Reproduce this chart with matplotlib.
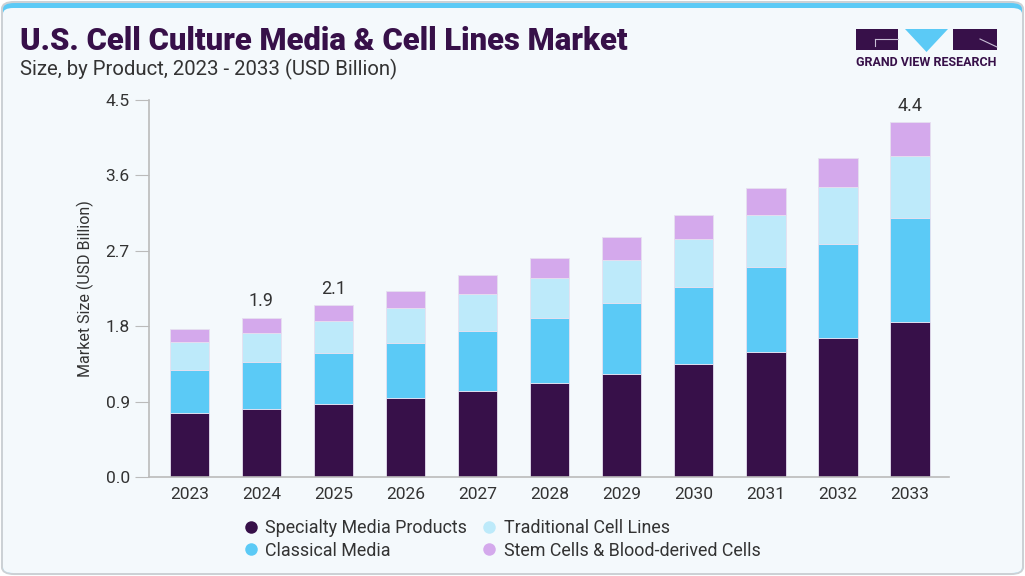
import matplotlib
matplotlib.use("Agg")
import matplotlib.pyplot as plt
from matplotlib.patches import FancyBboxPatch, Rectangle, Polygon
from matplotlib.lines import Line2D
import numpy as np

years = ["2023", "2024", "2025", "2026", "2027", "2028",
         "2029", "2030", "2031", "2032", "2033"]
specialty = [0.764, 0.815, 0.878, 0.950, 1.030, 1.122, 1.229, 1.352, 1.495, 1.662, 1.857]
classical = [0.516, 0.561, 0.605, 0.653, 0.716, 0.779, 0.847, 0.922, 1.018, 1.122, 1.241]
traditional = [0.331, 0.350, 0.382, 0.414, 0.438, 0.474, 0.517, 0.566, 0.613, 0.677, 0.740]
stem = [0.162, 0.179, 0.188, 0.203, 0.226, 0.242, 0.271, 0.294, 0.323, 0.353, 0.398]
series_names = ["Specialty Media Products", "Classical Media",
                "Traditional Cell Lines", "Stem Cells & Blood-derived Cells"]
colors = ["#371049", "#5BCAF6", "#BDEAFA", "#D4A9EC"]
# value labels shown on the chart (year index -> text)
labels = {1: "1.9", 2: "2.1", 10: "4.4"}

plt.rcParams['font.family'] = ['Roboto', 'DejaVu Sans']

W, H = 1025, 576
fig = plt.figure(figsize=(W / 100, H / 100), dpi=100)
fig.patch.set_facecolor("white")

# card background with cyan top strip
outer = FancyBboxPatch((2 / W, 2 / H), (W - 4) / W, (H - 4) / H,
                       boxstyle="round,pad=0,rounding_size=0.012",
                       transform=fig.transFigure, facecolor="#5BCAF6",
                       edgecolor="#CCD1D5", linewidth=1.5, zorder=0)
fig.patches.append(outer)
inner = FancyBboxPatch((3 / W, 3 / H), (W - 6) / W, (H - 11) / H,
                       boxstyle="round,pad=0,rounding_size=0.01",
                       transform=fig.transFigure, facecolor="#F4F9FC",
                       edgecolor="none", zorder=0.5)
fig.patches.append(inner)

ax = fig.add_axes([149.3 / W, 1 - 477.3 / H, (949 - 149.3) / W, (477.3 - 100) / H])
ax.set_facecolor("none")
ax.set_zorder(2)

x = np.arange(len(years))
bottom = np.zeros(len(years))
for vals, name, c in zip([specialty, classical, traditional, stem], series_names, colors):
    ax.bar(x, vals, width=0.545, bottom=bottom, color=c, label=name,
           edgecolor="#E6E0F0", linewidth=0.6, zorder=2)
    bottom += np.array(vals)

for i, t in labels.items():
    ax.text(x[i], bottom[i] + 0.09, t, ha="center", va="bottom",
            fontsize=13, color="#333333")

ax.set_xlim(-0.555, 10.54)
ax.set_ylim(0, 4.5)
ax.set_yticks([0.0, 0.9, 1.8, 2.7, 3.6, 4.5])
ax.set_yticklabels(["0.0", "0.9", "1.8", "2.7", "3.6", "4.5"])
ax.set_xticks(x)
ax.set_xticklabels(years)
ax.tick_params(axis="y", length=10, color="#BBBBBB", labelsize=12.5,
               labelcolor="#333333", pad=4)
ax.tick_params(axis="x", length=0, labelsize=12.5, labelcolor="#333333", pad=7)
for s in ["top", "right"]:
    ax.spines[s].set_visible(False)
for s in ["left", "bottom"]:
    ax.spines[s].set_color("#BBBBBB")
    ax.spines[s].set_linewidth(1.2)
ax.set_ylabel("Market Size (USD Billion)", fontsize=11.5, color="#333333", labelpad=8)

# legend
handles = [Line2D([], [], marker="o", linestyle="none", markersize=9,
                  markerfacecolor=c, markeredgecolor="none") for c in colors]
fig.legend(handles, series_names, ncol=2,
           loc="upper left", bbox_to_anchor=(224 / W, 1 - 503 / H),
           frameon=False, fontsize=12.9, handletextpad=0.2, columnspacing=0.65,
           labelspacing=0.25, handlelength=1.2, labelcolor="#333333")

# titles
fig.text(20 / W, 1 - 41 / H, "U.S. Cell Culture Media & Cell Lines Market",
         fontsize=22.3, fontweight="heavy", color="#371049", va="center", ha="left")
fig.text(20 / W, 1 - 69 / H, "Size, by Product, 2023 - 2033 (USD Billion)",
         fontsize=14.7, color="#333333", va="center", ha="left")

# logo
dark = "#371049"
fig.patches.append(Rectangle((856 / W, 1 - 50 / H), 42 / W, 21 / H,
                             transform=fig.transFigure, facecolor=dark, edgecolor="none"))
fig.patches.append(Rectangle((953 / W, 1 - 50 / H), 44 / W, 21 / H,
                             transform=fig.transFigure, facecolor=dark, edgecolor="none"))
fig.patches.append(Polygon([(905 / W, 1 - 29 / H), (948 / W, 1 - 29 / H), (926.5 / W, 1 - 52 / H)],
                           transform=fig.transFigure, facecolor="#5BCAF6", edgecolor="none"))
fig.lines.append(Line2D([875 / W, 898 / W, ], [1 - 39 / H, 1 - 39 / H],
                        transform=fig.transFigure, color="#C9BFD6", linewidth=0.8))
fig.lines.append(Line2D([875 / W, 875 / W], [1 - 39 / H, 1 - 46 / H],
                        transform=fig.transFigure, color="#C9BFD6", linewidth=0.8))
fig.lines.append(Line2D([980 / W, 997 / W], [1 - 39 / H, 1 - 47 / H],
                        transform=fig.transFigure, color="#C9BFD6", linewidth=0.8))
fig.text(926.5 / W, 1 - 63 / H, "GRAND VIEW RESEARCH", fontsize=9, fontweight="bold",
         color=dark, ha="center", va="center")

fig.savefig("out.png", dpi=100, facecolor=fig.get_facecolor())
